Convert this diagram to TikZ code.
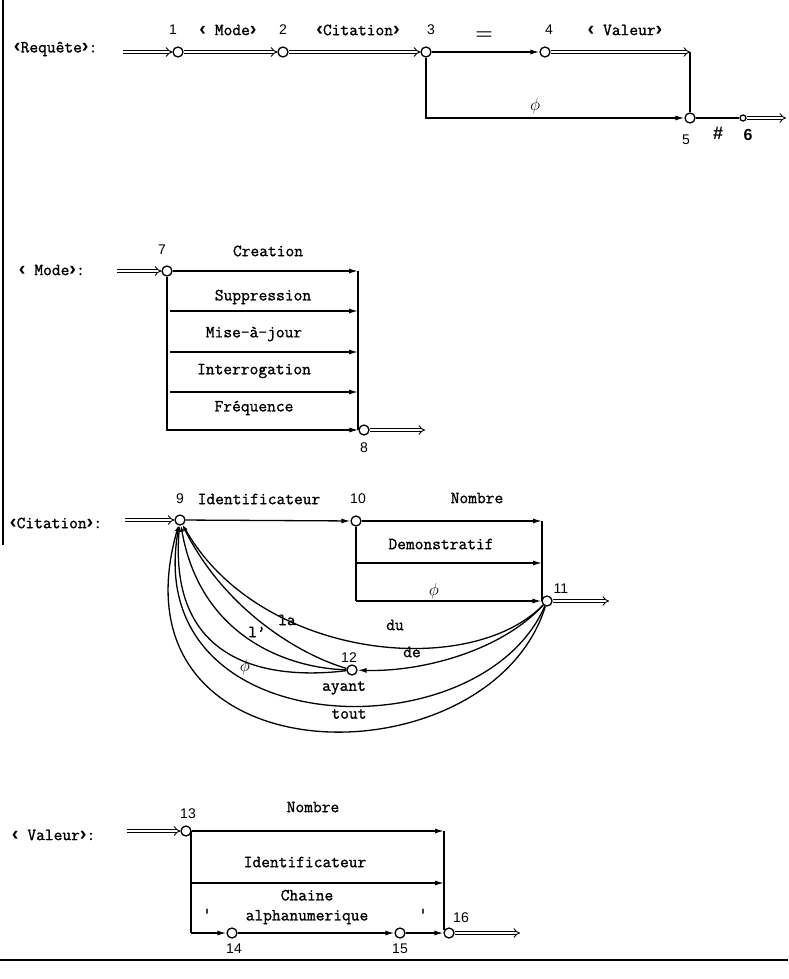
\documentclass[tikz,border=0pt]{standalone}
\usepackage{fontspec}
\newfontfamily\typefont{Latin Modern Mono}[FakeBold=1.2]
\newfontfamily\numfont{Liberation Sans}
\usetikzlibrary{arrows.meta, positioning}
\newcommand\lchev{{\numfont\bfseries\fontsize{20}{20}\selectfont ‹}}
\newcommand\rchev{{\numfont\bfseries\fontsize{20}{20}\selectfont ›}}

\begin{document}
\begin{tikzpicture}[x=1pt,y=-1pt,line width=1.3pt,
	every node/.style={font=\typefont\fontsize{17}{19}\selectfont},
	junct/.style={circle,draw,fill=white,inner sep=0pt,minimum size=10pt},
	tinyjunct/.style={circle,draw,fill=white,inner sep=0pt,minimum size=6pt},
	num/.style={font=\numfont\fontsize{14}{16}\selectfont},
	arr/.style={-{Latex[length=9pt,width=5pt]}},
	backarr/.style={-{Latex[length=6pt,width=4pt]}},
	dbl/.style={double,double distance=2.4pt,line width=0.9pt,-{Implies}}]
	\useasboundingbox (0,0) rectangle (788,979);

	% frame
	\draw[line width=1.8pt] (0,960) -- (788,960);
	\draw[line width=1.4pt] (3,0) -- (3,545);

	% <Requete>
	\node[anchor=west] (req) at (10,49) {\lchev Requête\rchev:};
	\coordinate (in1) at (123,52);
	\node[junct] (n1) at (178,52) {};
	\node[junct] (n2) at (283,52) {};
	\node[junct] (n3) at (426,52) {};
	\node[junct] (n4) at (545,52) {};
	\coordinate (c4) at (690,52);
	\coordinate (c3) at (426,118);
	\node[junct] (n5) at (690,118) {};
	\node[tinyjunct] (n6) at (743,118) {};
	\coordinate (out1) at (786,118);
	\draw[dbl] (in1) -- (n1);
	\draw[dbl] (n1) -- (n2);
	\draw[dbl] (n2) -- (n3);
	\draw[arr] (n3) -- (n4);
	\draw[dbl] (n4) -- (c4);
	\draw (c4) -- (n5);
	\draw[arr] (n3) -- (c3) -- (n5);
	\draw (n5) -- (n6);
	\draw[dbl] (n6) -- (out1);
	\node[num] (t1) at (173,30) {1};
	\node (l12) at (228,30) {\lchev\ Mode\rchev};
	\node[num] (t2) at (283,30) {2};
	\node (l23) at (358,30) {\lchev Citation\rchev};
	\node[num] (t3) at (431,30) {3};
	\node[font=\fontsize{20}{20}\selectfont\bfseries] (l34) at (484,36) {=};
	\node[num] (t4) at (549,30) {4};
	\node (l45) at (625,30) {\lchev\ Valeur\rchev};
	\node[font=\fontsize{18}{18}\selectfont] (l35) at (535,106) {$\phi$};
	\node[num] (t5) at (686,140) {5};
	\node[font=\numfont\fontsize{18}{18}\selectfont\bfseries] (l56) at (718,133) {\#};
	\node[font=\numfont\fontsize{16}{16}\selectfont\bfseries] (t6) at (748,135) {6};

	% <Mode>
	\node[anchor=west] (mode) at (15,270) {\lchev\ Mode\rchev:};
	\coordinate (in2) at (117,271);
	\node[junct] (n7) at (167,271) {};
	\node[junct] (n8) at (364,430) {};
	\coordinate (out2) at (425,430);
	\coordinate (ml2) at (170,311);
	\coordinate (ml3) at (170,352);
	\coordinate (ml4) at (170,392);
	\coordinate (ml5) at (170,430);
	\coordinate (mr1) at (358,271);
	\coordinate (mr2) at (358,311);
	\coordinate (mr3) at (358,352);
	\coordinate (mr4) at (358,392);
	\coordinate (mr5) at (358,430);
	\draw[dbl] (in2) -- (n7);
	\draw (n7) |- (ml5);
	\draw (mr1) -- (mr5);
	\draw[arr] (n7) -- (mr1);
	\draw[arr] (ml2) -- (mr2);
	\draw[arr] (ml3) -- (mr3);
	\draw[arr] (ml4) -- (mr4);
	\draw[arr] (ml5) -- (n8);
	\draw[dbl] (n8) -- (out2);
	\node[num] (t7) at (162,250) {7};
	\node[num] (t8) at (364,448) {8};
	\node (creat) at (268,251) {Creation};
	\node (suppr) at (263,297) {Suppression};
	\node (maj) at (254,334) {Mise-à-jour};
	\node (interr) at (254,371) {Interrogation};
	\node (freq) at (254,408) {Fréquence};

	% <Citation>
	\node[anchor=west] (cit) at (6,523) {\lchev Citation\rchev:};
	\coordinate (in3) at (125,520);
	\node[junct] (n9) at (180,520) {};
	\node[junct] (n10) at (356,521) {};
	\node[junct] (n11) at (547,601) {};
	\node[junct] (n12) at (352,670) {};
	\coordinate (out3) at (609,601);
	\coordinate (cr1) at (542,521);
	\coordinate (cl2) at (356,563);
	\coordinate (cr2) at (542,563);
	\coordinate (cl3) at (356,601);
	\coordinate (cr3) at (542,601);
	\draw[dbl] (in3) -- (n9);
	\draw[arr] (n9) -- (n10);
	\draw (n10) -- (cl3);
	\draw (cr1) -- (cr3);
	\draw[arr] (n10) -- (cr1);
	\draw[arr] (cl2) -- (cr2);
	\draw[arr] (cl3) -- (n11);
	\draw[dbl] (n11) -- (out3);
	\draw[backarr] (n11) .. controls (470,680) and (260,660) .. (n9);
	\draw[arr] (n11) .. controls (500,652) and (420,672) .. (n12);
	\draw[backarr] (n11) .. controls (480,755) and (140,745) .. (n9);
	\draw[backarr] (n11) .. controls (490,785) and (105,785) .. (n9);
	\draw[backarr] (n12) .. controls (300,655) and (225,610) .. (n9);
	\draw[backarr] (n12) .. controls (285,668) and (200,635) .. (n9);
	\draw[backarr] (n12) .. controls (270,680) and (168,665) .. (n9);
	\node[num] (t9) at (180,499) {9};
	\node (l910) at (259,499) {Identificateur};
	\node[num] (t10) at (358,499) {10};
	\node (nomb) at (477,498) {Nombre};
	\node (demo) at (441,544) {Demonstratif};
	\node[font=\fontsize{18}{18}\selectfont] (vide1) at (434,591) {$\phi$};
	\node[num] (t11) at (561,589) {11};
	\node[num] (t12) at (349,658) {12};
	\node (du) at (395,625) {du};
	\node (de) at (412,652) {de};
	\node (la) at (287,620) {la};
	\node (lap) at (257,632) {l’};
	\node[font=\fontsize{18}{18}\selectfont] (vide2) at (245,667) {$\phi$};
	\node (ayant) at (344,688) {ayant};
	\node (tout) at (349,714) {tout};

	% <Valeur>
	\node[anchor=west] (val) at (8,835) {\lchev\ Valeur\rchev:};
	\coordinate (in4) at (127,831);
	\node[junct] (n13) at (186,831) {};
	\node[junct] (n14) at (232,933) {};
	\node[junct] (n15) at (400,933) {};
	\node[junct] (n16) at (449,933) {};
	\coordinate (out4) at (520,933);
	\coordinate (vl1) at (191,831);
	\coordinate (vl2) at (191,883);
	\coordinate (vl3) at (191,933);
	\coordinate (vr1) at (444,831);
	\coordinate (vr2) at (444,883);
	\coordinate (vr3) at (444,930);
	\draw[dbl] (in4) -- (n13);
	\draw (vl1) -- (vl3);
	\draw (vr1) -- (vr3);
	\draw[arr] (n13) -- (vr1);
	\draw[arr] (vl2) -- (vr2);
	\draw[arr] (vl3) -- (n14);
	\draw[arr] (n14) -- (n15);
	\draw[arr] (n15) -- (n16);
	\draw[dbl] (n16) -- (out4);
	\node[num] (t13) at (188,814) {13};
	\node (nomb2) at (313,807) {Nombre};
	\node (ident2) at (305,862) {Identificateur};
	\node[align=center,font=\typefont\fontsize{17}{20}\selectfont] (chaine) at (307,907) {Chaine\\alphanumerique};
	\node (q1) at (207,914) {\textquotesingle};
	\node (q2) at (423,914) {\textquotesingle};
	\node[num] (t14) at (234,949) {14};
	\node[num] (t15) at (400,949) {15};
	\node[num] (t16) at (461,918) {16};
\end{tikzpicture}
\end{document}
